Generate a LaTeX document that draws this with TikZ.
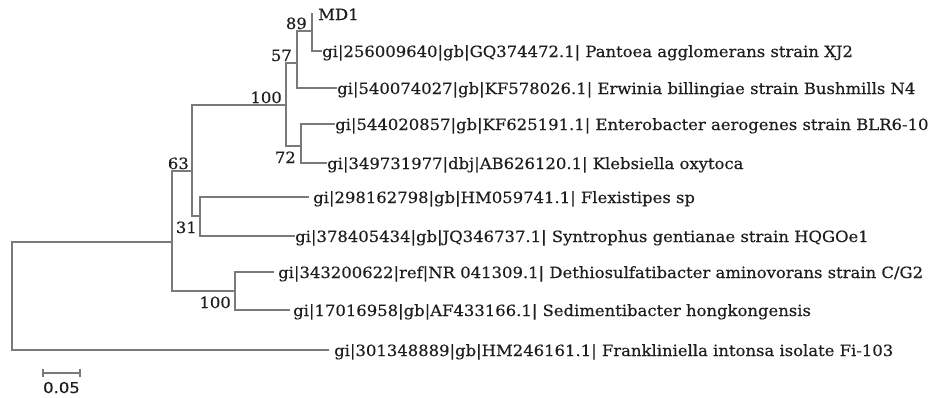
\documentclass[tikz,border=0pt]{standalone}
\usepackage{fontspec}
\setmainfont{DejaVu Serif}[FakeStretch=1.06,FakeBold=0.35]
\newfontfamily\scalefont{DejaVu Sans}[FakeStretch=1.1,FakeBold=0.3]
\definecolor{linegray}{HTML}{7A7A7A}
\definecolor{txt}{HTML}{1E1E1E}
\tikzset{
  branch/.style={draw=linegray, line width=1.3pt, line cap=rect},
  leaf/.style={anchor=base west, inner sep=0pt, text=txt, font=\fontsize{15.5}{18}\selectfont},
  bsup/.style={anchor=base east, inner sep=0pt, text=txt, font=\fontsize{15.5}{18}\selectfont},
}
\begin{document}
\begin{tikzpicture}[x=1pt,y=-1pt]
\fill[white] (0,0) rectangle (936,397);
\useasboundingbox (0,0) rectangle (936,397);
% internal nodes (x, entry y)
\coordinate (root) at (12,296);
\coordinate (n1) at (172,242);
\coordinate (n63) at (192,171);
\coordinate (n100b) at (235,291);
\coordinate (n100a) at (286,105);
\coordinate (n31) at (200,216);
\coordinate (n57) at (297,63);
\coordinate (n72) at (301,146);
\coordinate (n89) at (312,31);
% leaf tips
\coordinate (tmd1) at (312,14);
\coordinate (tpan) at (321,51);
\coordinate (terw) at (336,88);
\coordinate (tent) at (334,124);
\coordinate (tkle) at (326,163);
\coordinate (tfle) at (308,197);
\coordinate (tsyn) at (294,236);
\coordinate (tdet) at (273,272);
\coordinate (tsed) at (289,310);
\coordinate (tfra) at (328,350);
% branches
\draw[branch] (root) |- (n1);
\draw[branch] (root) |- (tfra);
\draw[branch] (n1) |- (n63);
\draw[branch] (n1) |- (n100b);
\draw[branch] (n63) |- (n100a);
\draw[branch] (n63) |- (n31);
\draw[branch] (n100a) |- (n57);
\draw[branch] (n100a) |- (n72);
\draw[branch] (n57) |- (n89);
\draw[branch] (n57) |- (terw);
\draw[branch] (n89) |- (tmd1);
\draw[branch] (n89) |- (tpan);
\draw[branch] (n72) |- (tent);
\draw[branch] (n72) |- (tkle);
\draw[branch] (n31) |- (tfle);
\draw[branch] (n31) |- (tsyn);
\draw[branch] (n100b) |- (tdet);
\draw[branch] (n100b) |- (tsed);
% leaf labels
\node[leaf] (lmd1) at ([xshift=6pt,yshift=-6pt]tmd1) {MD1};
\node[leaf] (lpan) at ([xshift=1pt,yshift=-6pt]tpan) {gi|256009640|gb|GQ374472.1| Pantoea agglomerans strain XJ2};
\node[leaf] (lerw) at ([xshift=1pt,yshift=-6pt]terw) {gi|540074027|gb|KF578026.1| Erwinia billingiae strain Bushmills N4};
\node[leaf] (lent) at ([xshift=1pt,yshift=-6pt]tent) {gi|544020857|gb|KF625191.1| Enterobacter aerogenes strain BLR6-10};
\node[leaf] (lkle) at ([xshift=1pt,yshift=-6pt]tkle) {gi|349731977|dbj|AB626120.1| Klebsiella oxytoca};
\node[leaf] (lfle) at ([xshift=5pt,yshift=-6pt]tfle) {gi|298162798|gb|HM059741.1| Flexistipes sp};
\node[leaf] (lsyn) at ([xshift=1pt,yshift=-6pt]tsyn) {gi|378405434|gb|JQ346737.1| Syntrophus gentianae strain HQGOe1};
\node[leaf] (ldet) at ([xshift=5pt,yshift=-6pt]tdet) {gi|343200622|ref|NR 041309.1| Dethiosulfatibacter aminovorans strain C/G2};
\node[leaf] (lsed) at ([xshift=4pt,yshift=-6pt]tsed) {gi|17016958|gb|AF433166.1| Sedimentibacter hongkongensis};
\node[leaf] (lfra) at ([xshift=6pt,yshift=-6pt]tfra) {gi|301348889|gb|HM246161.1| Frankliniella intonsa isolate Fi-103};
% bootstrap values
\node[bsup] (b89) at ([xshift=-5pt,yshift=2pt]n89) {89};
\node[bsup] (b57) at ([xshift=-5pt,yshift=2pt]n57) {57};
\node[bsup] (b100a) at ([xshift=-4pt,yshift=2pt]n100a) {100};
\node[bsup] (b63) at ([xshift=-3pt,yshift=2pt]n63) {63};
\node[bsup] (b72) at ([xshift=-5pt,yshift=-17pt]n72) {72};
\node[bsup] (b31) at ([xshift=-3pt,yshift=-17pt]n31) {31};
\node[bsup] (b100b) at ([xshift=-4pt,yshift=-17pt]n100b) {100};
% scale bar
\coordinate (sbl) at (43,373);
\coordinate (sbr) at (80,373);
\draw[branch, line cap=butt] (sbl) -- (sbr);
\draw[branch, line cap=butt] ([yshift=4pt]sbl) -- ([yshift=-4pt]sbl);
\draw[branch, line cap=butt] ([yshift=4pt]sbr) -- ([yshift=-4pt]sbr);
\node[anchor=base, inner sep=0pt, text=txt, font=\scalefont\fontsize{15}{17}\selectfont] (sblab) at (61.5,393) {0.05};
\end{tikzpicture}
\end{document}
